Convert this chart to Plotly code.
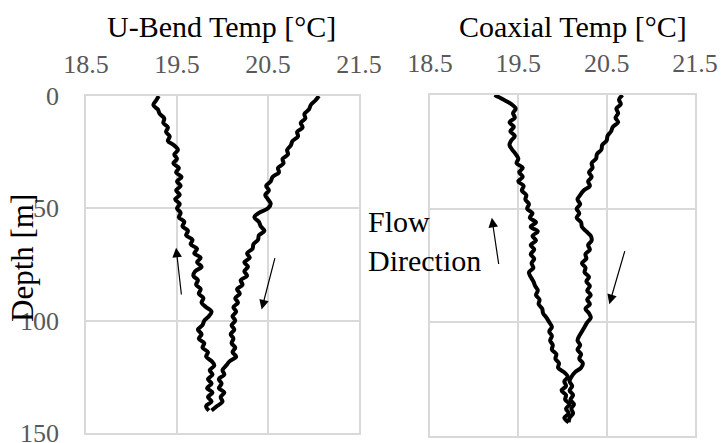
import plotly.graph_objects as go

# ---------------- data ----------------
ubend_depth = list(range(0, 142, 2))  # 0..140 m
ubend_down = [21.06, 21.02, 20.97, 20.95, 20.90, 20.91, 20.86, 20.88, 20.82, 20.83,
              20.77, 20.75, 20.71, 20.72, 20.66, 20.67, 20.61, 20.62, 20.55, 20.53,
              20.48, 20.51, 20.47, 20.50, 20.53, 20.50, 20.40, 20.35, 20.40, 20.42,
              20.46, 20.40, 20.39, 20.34, 20.33, 20.27, 20.30, 20.24, 20.28, 20.24,
              20.27, 20.20, 20.22, 20.16, 20.19, 20.14, 20.17, 20.12, 20.15, 20.11,
              20.14, 20.10, 20.13, 20.09, 20.12, 20.10, 20.14, 20.11, 20.15, 20.08,
              20.04, 20.00, 20.02, 19.96, 19.99, 19.96, 20.02, 19.98, 20.00, 19.94,
              19.88]
ubend_up = [19.30, 19.27, 19.24, 19.29, 19.31, 19.36, 19.35, 19.40, 19.38, 19.42,
            19.40, 19.47, 19.51, 19.47, 19.50, 19.46, 19.52, 19.49, 19.55, 19.50,
            19.54, 19.49, 19.53, 19.48, 19.53, 19.50, 19.54, 19.52, 19.58, 19.56,
            19.62, 19.60, 19.67, 19.65, 19.72, 19.69, 19.76, 19.72, 19.77, 19.70,
            19.68, 19.73, 19.71, 19.76, 19.74, 19.79, 19.77, 19.82, 19.88, 19.85,
            19.80, 19.78, 19.73, 19.77, 19.74, 19.80, 19.78, 19.84, 19.82, 19.88,
            19.91, 19.86, 19.89, 19.84, 19.88, 19.83, 19.89, 19.84, 19.88, 19.82,
            19.85]

coax_depth = list(range(0, 146, 2))  # 0..144 m
coax_down = [20.68, 20.64, 20.66, 20.61, 20.63, 20.60, 20.63, 20.57, 20.55, 20.51,
             20.50, 20.45, 20.44, 20.39, 20.38, 20.33, 20.34, 20.30, 20.33, 20.29,
             20.31, 20.24, 20.20, 20.17, 20.20, 20.16, 20.19, 20.16, 20.21, 20.22,
             20.27, 20.32, 20.33, 20.29, 20.31, 20.26, 20.27, 20.22, 20.26, 20.25,
             20.30, 20.27, 20.31, 20.28, 20.32, 20.28, 20.31, 20.26, 20.30, 20.32,
             20.28, 20.25, 20.22, 20.19, 20.17, 20.20, 20.17, 20.21, 20.19, 20.23,
             20.21, 20.14, 20.10, 20.08, 20.11, 20.08, 20.12, 20.09, 20.13, 20.10,
             20.12, 20.08, 20.07]
coax_up = [19.23, 19.33, 19.42, 19.47, 19.44, 19.46, 19.40, 19.45, 19.41, 19.46,
           19.42, 19.40, 19.43, 19.47, 19.50, 19.48, 19.55, 19.51, 19.55, 19.50,
           19.56, 19.54, 19.59, 19.58, 19.62, 19.60, 19.66, 19.63, 19.70, 19.64,
           19.72, 19.66, 19.70, 19.64, 19.68, 19.64, 19.68, 19.65, 19.67, 19.62,
           19.64, 19.67, 19.69, 19.72, 19.70, 19.74, 19.73, 19.77, 19.78, 19.82,
           19.85, 19.88, 19.85, 19.88, 19.86, 19.89, 19.88, 19.93, 19.92, 19.96,
           19.95, 20.02, 20.06, 20.02, 20.04, 19.99, 20.04, 20.03, 20.08, 20.04,
           20.07, 20.02, 20.07]

x_ticks = [18.5, 19.5, 20.5, 21.5]
y_ticks = [0, 50, 100, 150]
titles = ["U-Bend Temp [°C]", "Coaxial Temp [°C]"]

# ---------------- figure ----------------
FONT = "'Liberation Serif', 'Times New Roman', 'DejaVu Serif', serif"
GRID = "#d9d9d9"
TICKC = "#595959"

fig = go.Figure()
line = dict(color="black", width=4, shape="spline", smoothing=1)
fig.add_trace(go.Scatter(x=ubend_down, y=ubend_depth, mode="lines", line=line, xaxis="x", yaxis="y"))
fig.add_trace(go.Scatter(x=ubend_up, y=ubend_depth, mode="lines", line=line, xaxis="x", yaxis="y"))
fig.add_trace(go.Scatter(x=coax_down, y=coax_depth, mode="lines", line=line, xaxis="x2", yaxis="y2"))
fig.add_trace(go.Scatter(x=coax_up, y=coax_depth, mode="lines", line=line, xaxis="x2", yaxis="y2"))

W, H = 721, 443

def xax(domain, anchor):
    return dict(domain=domain, anchor=anchor, side="top", range=[18.5, 21.5],
                tickvals=x_ticks, ticktext=[f"{v}" for v in x_ticks],
                showgrid=True, gridcolor=GRID, gridwidth=1.5,
                showline=True, mirror=True, linecolor=GRID, linewidth=1.5,
                zeroline=False, ticks="", ticklabelstandoff=11, automargin=False,
                ticklabeloverflow="allow",
                tickfont=dict(family=FONT, size=26, color=TICKC))

def yax(domain, anchor, labels):
    return dict(domain=domain, anchor=anchor, range=[150, 0],
                tickvals=y_ticks, showticklabels=labels,
                showgrid=True, gridcolor=GRID, gridwidth=1.5,
                showline=True, mirror=True, linecolor=GRID, linewidth=1.5,
                zeroline=False, ticks="", ticklabelstandoff=20, automargin=False,
                ticklabeloverflow="allow",
                tickfont=dict(family=FONT, size=26, color=TICKC))

fig.update_layout(
    width=W, height=H, margin=dict(l=0, r=0, t=0, b=0, autoexpand=False),
    paper_bgcolor="white", plot_bgcolor="white", showlegend=False,
    font=dict(family=FONT),
    xaxis=xax([86 / W, 359 / W], "y"),
    yaxis=yax([1 - 433 / H, 1 - 96 / H], "x", True),
    xaxis2=xax([430 / W, 695 / W], "y2"),
    yaxis2=yax([1 - 436 / H, 1 - 95 / H], "x2", False),
)

anns = [
    dict(text=titles[0], x=222 / W, y=1 - 26 / H, xref="paper", yref="paper",
         xanchor="center", yanchor="middle", showarrow=False,
         font=dict(family=FONT, size=30, color="black")),
    dict(text=titles[1], x=573 / W, y=1 - 26 / H, xref="paper", yref="paper",
         xanchor="center", yanchor="middle", showarrow=False,
         font=dict(family=FONT, size=30, color="black")),
    dict(text="Depth [m]", x=22 / W, y=1 - 258 / H, xref="paper", yref="paper",
         xanchor="center", yanchor="middle", textangle=-90, showarrow=False,
         font=dict(family=FONT, size=31, color="black")),
    dict(text="Flow<br>Direction", x=366 / W, y=1 - 241 / H, xref="paper", yref="paper",
         xanchor="left", yanchor="middle", align="left", showarrow=False,
         font=dict(family=FONT, size=30, color="black")),
]
# flow arrows (head at x,y; tail at ax,ay in data coords)
arrows = [
    ("x", "y", 19.49, 67.5, 19.55, 89),
    ("x", "y", 20.43, 95, 20.58, 71.5),
    ("x2", "y2", 19.20, 54, 19.28, 75),
    ("x2", "y2", 20.53, 92, 20.71, 68),
]
for xr, yr, hx, hy, tx, ty in arrows:
    anns.append(dict(x=hx, y=hy, ax=tx, ay=ty, xref=xr, yref=yr, axref=xr, ayref=yr,
                     showarrow=True, arrowhead=2, arrowsize=1.6, arrowwidth=1.2,
                     arrowcolor="black", text=""))
fig.update_layout(annotations=anns)

fig.write_html("out.html")
